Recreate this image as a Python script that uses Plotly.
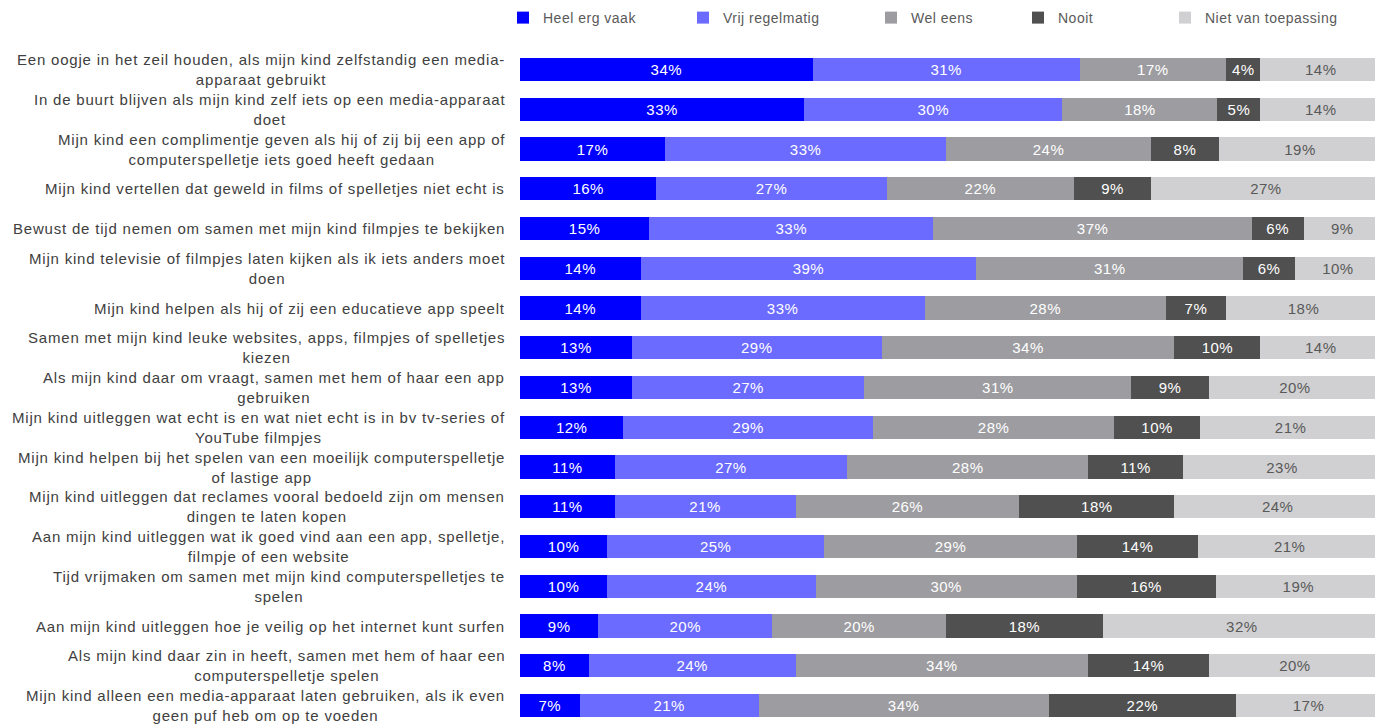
import plotly.graph_objects as go

categories = [
    "Een oogje in het zeil houden, als mijn kind zelfstandig een media-<br>apparaat gebruikt",
    "In de buurt blijven als mijn kind zelf iets op een media-apparaat<br>doet",
    "Mijn kind een complimentje geven als hij of zij bij een app of<br>computerspelletje iets goed heeft gedaan",
    "Mijn kind vertellen dat geweld in films of spelletjes niet echt is",
    "Bewust de tijd nemen om samen met mijn kind filmpjes te bekijken",
    "Mijn kind televisie of filmpjes laten kijken als ik iets anders moet<br>doen",
    "Mijn kind helpen als hij of zij een educatieve app speelt",
    "Samen met mijn kind leuke websites, apps, filmpjes of spelletjes<br>kiezen",
    "Als mijn kind daar om vraagt, samen met hem of haar een app<br>gebruiken",
    "Mijn kind uitleggen wat echt is en wat niet echt is in bv tv-series of<br>YouTube filmpjes",
    "Mijn kind helpen bij het spelen van een moeilijk computerspelletje<br>of lastige app",
    "Mijn kind uitleggen dat reclames vooral bedoeld zijn om mensen<br>dingen te laten kopen",
    "Aan mijn kind uitleggen wat ik goed vind aan een app, spelletje,<br>filmpje of een website",
    "Tijd vrijmaken om samen met mijn kind computerspelletjes te<br>spelen",
    "Aan mijn kind uitleggen hoe je veilig op het internet kunt surfen",
    "Als mijn kind daar zin in heeft, samen met hem of haar een<br>computerspelletje spelen",
    "Mijn kind alleen een media-apparaat laten gebruiken, als ik even<br>geen puf heb om op te voeden",
]

series_names = ["Heel erg vaak", "Vrij regelmatig", "Wel eens", "Nooit", "Niet van toepassing"]

heel_erg_vaak = [34, 33, 17, 16, 15, 14, 14, 13, 13, 12, 11, 11, 10, 10, 9, 8, 7]
vrij_regelmatig = [31, 30, 33, 27, 33, 39, 33, 29, 27, 29, 27, 21, 25, 24, 20, 24, 21]
wel_eens = [17, 18, 24, 22, 37, 31, 28, 34, 31, 28, 28, 26, 29, 30, 20, 34, 34]
nooit = [4, 5, 8, 9, 6, 6, 7, 10, 9, 10, 11, 18, 14, 16, 18, 14, 22]
niet_van_toepassing = [14, 14, 19, 27, 9, 10, 18, 14, 20, 21, 23, 24, 21, 19, 32, 20, 17]

series_values = [heel_erg_vaak, vrij_regelmatig, wel_eens, nooit, niet_van_toepassing]
colors = ["#0000FF", "#6B6BFF", "#9D9DA1", "#505050", "#D0D0D2"]
text_colors = ["#FFFFFF", "#FFFFFF", "#FFFFFF", "#FFFFFF", "#595959"]

FONT = "Liberation Sans, Arial, sans-serif"


def spaced(s, px):
    return "<span style='letter-spacing:%spx'>%s</span>" % (px, s)


# The page body has an 8px default margin, so the figure is sized to fit the window.
OFF = 8
W, H = 1383 - OFF, 726 - OFF
L, R, T, B = 520 - OFF, 2, 49 - OFF, 0

# legend text start positions in window px (reference)
legend_text_px = [538, 718, 906, 1053, 1200]

fig = go.Figure()
legend_ids = ["legend", "legend2", "legend3", "legend4", "legend5"]
for i, (name, vals) in enumerate(zip(series_names, series_values)):
    fig.add_trace(go.Bar(
        name=spaced(name, 0.5),
        y=categories,
        x=vals,
        orientation="h",
        marker=dict(color=colors[i], line=dict(width=0)),
        text=[spaced(f"{v}%", 0.5) for v in vals],
        textposition="inside",
        insidetextanchor="middle",
        textangle=0,
        insidetextfont=dict(family=FONT, size=15, color=text_colors[i]),
        legend=legend_ids[i],
        showlegend=True,
        hoverinfo="skip",
    ))

layout_legends = {}
for i, lid in enumerate(legend_ids):
    xpx = legend_text_px[i] - 48 + 5
    layout_legends[lid] = dict(
        xref="container", yref="container",
        x=xpx / W,
        xanchor="left",
        y=1 - 10 / H,
        yanchor="middle",
        orientation="h",
        font=dict(family=FONT, size=14, color="#595959"),
        bgcolor="rgba(0,0,0,0)",
        borderwidth=0,
        itemclick=False,
        tracegroupgap=0,
        visible=True,
    )

annotations = []
for c in categories:
    annotations.append(dict(
        x=0, xref="paper", y=c, yref="y",
        text=spaced(c.replace("<br>", "</span><br><span style='letter-spacing:0.8px'>"), 0.8),
        showarrow=False,
        xanchor="right", yanchor="middle", align="center",
        xshift=-13,
        font=dict(family=FONT, size=15, color="#404040"),
    ))

fig.update_layout(
    width=W, height=H,
    showlegend=True,
    barmode="stack",
    barnorm="percent",
    bargap=0.42,
    margin=dict(l=L, r=R, t=T, b=B, pad=0, autoexpand=False),
    plot_bgcolor="white",
    paper_bgcolor="white",
    font=dict(family=FONT, color="#404040"),
    xaxis=dict(range=[0, 100], visible=False, fixedrange=True),
    yaxis=dict(autorange="reversed", showticklabels=False, showgrid=False,
               zeroline=False, showline=False, ticks="", fixedrange=True),
    annotations=annotations,
    **layout_legends,
)

fig.write_html("out.html")
